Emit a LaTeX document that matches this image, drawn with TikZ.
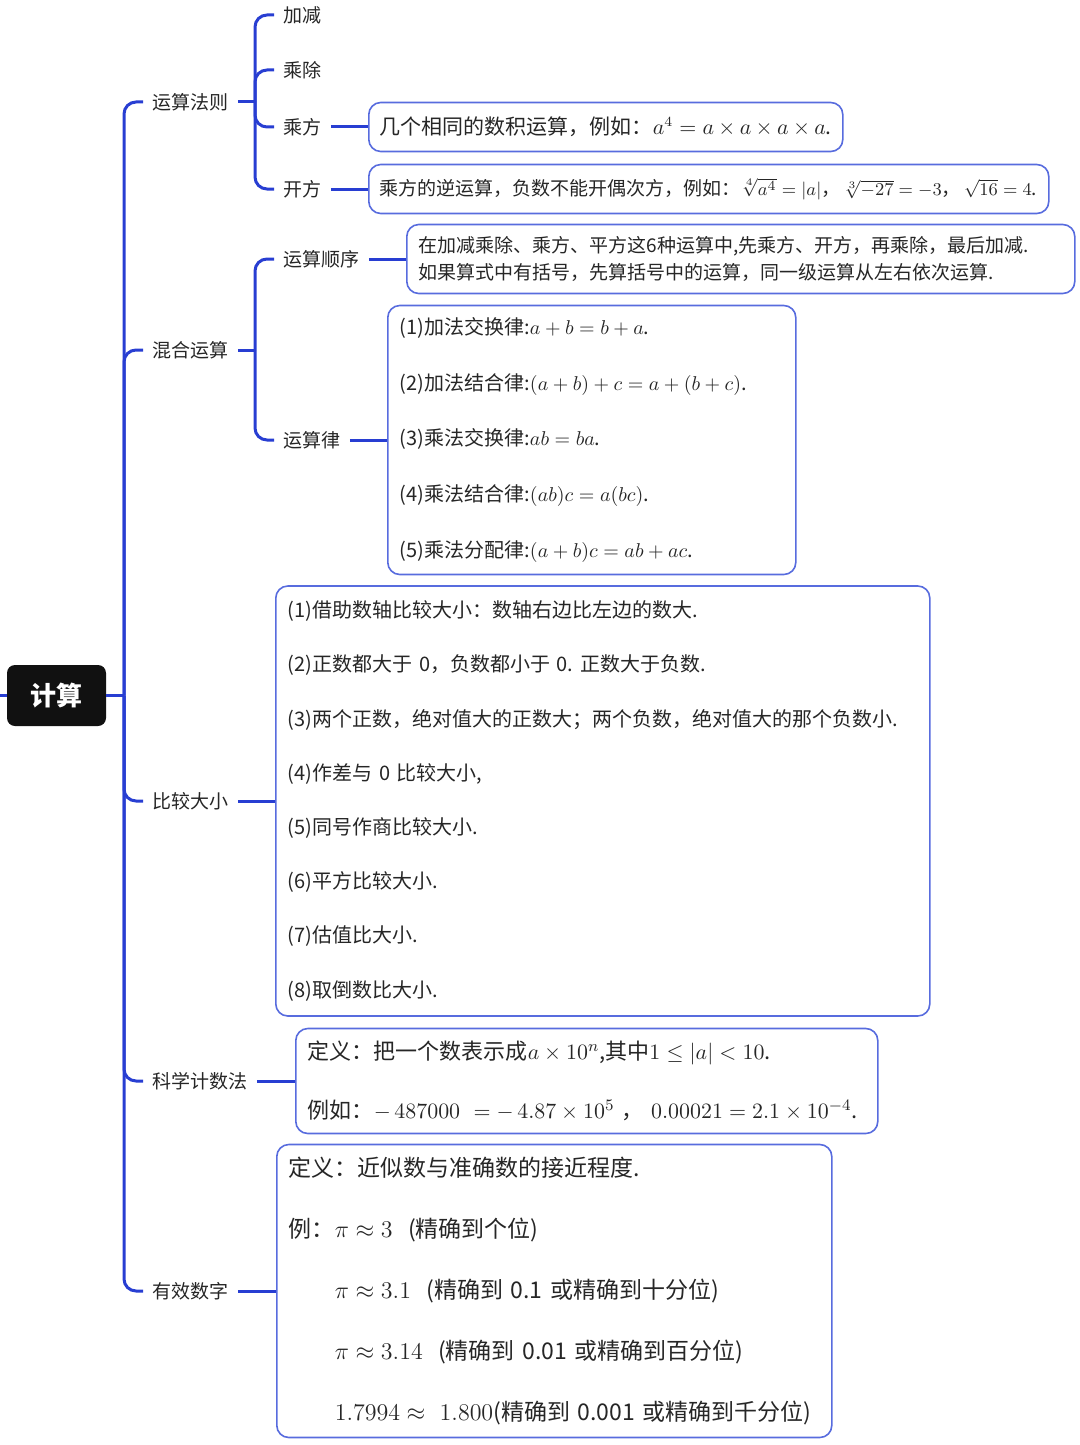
\documentclass[tikz,border=0pt]{standalone}
\usepackage{amsmath,amssymb}
\usepackage{fontspec}
\setmainfont{Noto Sans CJK SC}
\usetikzlibrary{positioning, calc}
\definecolor{LinkBlue}{RGB}{40,62,210}
\definecolor{BoxBlue}{RGB}{88,108,222}
\definecolor{RootBlack}{RGB}{17,17,17}

\begin{document}
\begin{tikzpicture}[
    x=0.5pt, y=-0.5pt,
    link/.style={draw=LinkBlue, line width=1.5pt, rounded corners=6pt},
    lbl/.style={anchor=west, inner xsep=4.5pt, text=black!85,
        font=\fontsize{9.5}{11}\selectfont},
    leaf/.style={draw=BoxBlue, line width=0.8pt, rounded corners=6pt, anchor=west,
        align=left, inner xsep=6pt, inner ysep=0pt, text=black!85},
    root/.style={fill=RootBlack, rounded corners=4pt, text=white,
        minimum width=49.5pt, minimum height=30.5pt,
        font=\fontsize{13}{15}\selectfont\bfseries},
]
\useasboundingbox (0,0) rectangle (1080,1445);

% centre
\node[root] (jisuan) at (56.5,695.5) {计算};
\coordinate (rand) at (0,695.5);
\coordinate (stamm) at (124,695.5);
\draw[link] (rand) -- (jisuan.west);
\draw[link] (jisuan.east) -- (stamm);

% ================= 第一层 =================
\node[lbl] (ysfz) at (143,102) {运算法则};
\node[lbl] (hhys) at (143,350) {混合运算};
\node[lbl] (bjdx) at (143,801) {比较大小};
\node[lbl] (kxjs) at (143,1081) {科学计数法};
\node[lbl] (yxsz) at (143,1291) {有效数字};
\draw[link] (stamm) |- (ysfz.west);
\draw[link] (stamm) |- (hhys.west);
\draw[link] (stamm) |- (bjdx.west);
\draw[link] (stamm) |- (kxjs.west);
\draw[link] (stamm) |- (yxsz.west);

% ================= 运算法则 =================
\node[lbl] (jiajian) at (274,15) {加减};
\node[lbl] (chengchu) at (274,70) {乘除};
\node[lbl] (chengfang) at (274,127) {乘方};
\node[lbl] (kaifang) at (274,189) {开方};
\coordinate (fzgabel) at (255,102);
\draw[link] (ysfz.east) -- (fzgabel);
\draw[link] (fzgabel) |- (jiajian.west);
\draw[link] (fzgabel) |- (chengchu.west);
\draw[link] (fzgabel) |- (chengfang.west);
\draw[link] (fzgabel) |- (kaifang.west);

\node[leaf, text width=226pt, minimum height=24.5pt, inner xsep=5.5pt,
      font=\fontsize{10.5}{12}\selectfont] (cfbox) at (368,127)
    {几个相同的数积运算，例如：$a^4 = a\times a\times a\times a$.};
\node[leaf, text width=329pt, minimum height=24.5pt, inner xsep=5.5pt,
      font=\fontsize{9.5}{11}\selectfont] (kfbox) at (368,189)
    {乘方的逆运算，负数不能开偶次方，例如：$\sqrt[4]{a^4}=|a|$，\,$\sqrt[3]{-27}=-3$，\,$\sqrt{16}=4$.};
\draw[link] (chengfang.east) -- (cfbox.west);
\draw[link] (kaifang.east) -- (kfbox.west);

% ================= 混合运算 =================
\node[lbl] (shunxu) at (274,259) {运算顺序};
\node[lbl] (ysl) at (274,440) {运算律};
\coordinate (hhgabel) at (255,350);
\draw[link] (hhys.east) -- (hhgabel);
\draw[link] (hhgabel) |- (shunxu.west);
\draw[link] (hhgabel) |- (ysl.west);

\node[leaf, text width=322pt, minimum height=34.5pt,
      font=\fontsize{9.5}{13.5}\selectfont] (sxbox) at (406,259)
    {在加减乘除、乘方、平方这6种运算中,先乘方、开方，再乘除，最后加减.\\
     如果算式中有括号，先算括号中的运算，同一级运算从左右依次运算.};
\node[leaf, text width=192pt, minimum height=134.5pt,
      font=\fontsize{10}{27.9}\selectfont] (yslbox) at (387,440)
    {(1)加法交换律:$a+b=b+a$.\\
     (2)加法结合律:$(a+b)+c=a+(b+c)$.\\
     (3)乘法交换律:$ab=ba$.\\
     (4)乘法结合律:$(ab)c=a(bc)$.\\
     (5)乘法分配律:$(a+b)c=ab+ac$.};
\draw[link] (shunxu.east) -- (sxbox.west);
\draw[link] (ysl.east) -- (yslbox.west);

% ================= 比较大小 =================
\node[leaf, text width=315pt, minimum height=215pt,
      font=\fontsize{10}{27.1}\selectfont] (bjbox) at (275,801)
    {(1)借助数轴比较大小：数轴右边比左边的数大.\\
     (2)正数都大于~0，负数都小于~0.~正数大于负数.\\
     (3)两个正数，绝对值大的正数大；两个负数，绝对值大的那个负数小.\\
     (4)作差与~0~比较大小,\\
     (5)同号作商比较大小.\\
     (6)平方比较大小.\\
     (7)估值比大小.\\
     (8)取倒数比大小.};
\draw[link] (bjdx.east) -- (bjbox.west);

% ================= 科学计数法 =================
\node[leaf, text width=279pt, minimum height=52.5pt,
      font=\fontsize{11}{29.5}\selectfont] (kxbox) at (295,1081)
    {定义：把一个数表示成$a\times10^n$,其中$1\le|a|<10$.\\
     例如：$-\,487000\ =-\,4.87\times10^5$~，~$0.00021=2.1\times10^{-4}$.};
\draw[link] (kxjs.east) -- (kxbox.west);

% ================= 有效数字 =================
\node[leaf, text width=265.5pt, minimum height=146.5pt,
      font=\fontsize{11.5}{30.5}\selectfont] (yxbox) at (276,1291)
    {定义：近似数与准确数的接近程度.\\
     例：$\pi\approx3$~~(精确到个位)\\
     \phantom{例：}$\pi\approx3.1$~~(精确到~0.1~或精确到十分位)\\
     \phantom{例：}$\pi\approx3.14$~~(精确到~0.01~或精确到百分位)\\
     \phantom{例：}$1.7994\approx\ 1.800$(精确到~0.001~或精确到千分位)};
\draw[link] (yxsz.east) -- (yxbox.west);

\end{tikzpicture}
\end{document}
